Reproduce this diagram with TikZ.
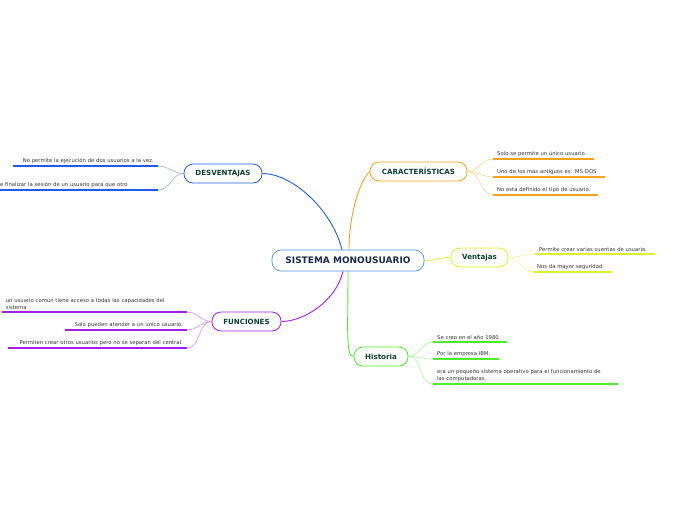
\documentclass[tikz,border=0pt]{standalone}
\usepackage{fontspec}
\setmainfont{DejaVu Sans}
\usepackage{xcolor}
\usetikzlibrary{arrows.meta,calc,positioning,backgrounds}

\definecolor{rootText}{HTML}{1B2A4E}
\definecolor{rootLine}{HTML}{4A90D9}
\definecolor{topicText}{HTML}{0D4030}
\definecolor{cBlue}{HTML}{1F5BEB}
\definecolor{cOrange}{HTML}{F7A21B}
\definecolor{cLime}{HTML}{DDF22C}
\definecolor{cGreen}{HTML}{4BEF2B}
\definecolor{cPurple}{HTML}{A41DEB}

\begin{document}
\begin{tikzpicture}[x=1pt,y=-1pt,
  root/.style={draw=rootLine,fill=white,line width=0.7pt,rounded corners=9pt,
    minimum width=152pt,minimum height=21pt,text=rootText,
    font=\bfseries\fontsize{9}{10}\selectfont},
  topic/.style={draw=#1,fill=white,line width=0.8pt,rounded corners=9pt,
    minimum height=19pt,text=topicText,font=\bfseries\fontsize{7.1}{8}\selectfont},
  leaf/.style={inner xsep=4pt,inner ysep=2.5pt,text=black!80,
    font=\fontsize{5.3}{6.6}\selectfont},
  uline/.style={draw=#1,line width=1.3pt},
  link/.style={draw=#1,line width=0.9pt},
  sublink/.style={draw=#1!55,line width=0.5pt}]
  \useasboundingbox (0,0) rectangle (696,520);

  % central topic and main branches
  \node[root] (sys) at (348,260.5) {SISTEMA MONOUSUARIO};
  \node[topic=cOrange,minimum width=97pt] (car) at (418.5,171.5) {CARACTERÍSTICAS};
  \node[topic=cBlue,minimum width=78pt] (des) at (223,173.5) {DESVENTAJAS};
  \node[topic=cLime,minimum width=57pt] (ven) at (479.5,257.5) {Ventajas};
  \node[topic=cGreen,minimum width=54pt] (his) at (381,356.5) {Historia};
  \node[topic=cPurple,minimum width=69pt] (fun) at (246.5,321.5) {FUNCIONES};

  \begin{pgfonlayer}{background}
    \draw[link=cOrange] ($(sys.north)+(1,0)$)
      .. controls ($(sys.north)+(1,-35)$) and ($(car.west)+(-10,10)$) .. (car.west);
    \draw[link=cBlue] ($(sys.north)+(-6,0)$)
      .. controls ($(sys.north)+(-16,-40)$) and ($(des.east)+(30,0)$) .. (des.east);
    \draw[link=cLime] (sys.east)
      .. controls ($(sys.east)+(13,0)$) and ($(ven.west)+(-13,0)$) .. (ven.west);
    \draw[link=cGreen] (sys.south)
      .. controls ($(sys.south)+(0,60)$) and ($(his.west)+(-8,0)$) .. (his.west);
    \draw[link=cPurple] ($(sys.south)+(-5,0)$)
      .. controls ($(sys.south)+(-12,30)$) and ($(fun.east)+(22,0)$) .. (fun.east);
  \end{pgfonlayer}

  % caracteristicas
  \node[leaf,anchor=south west,text width=93pt,align=left] (c1) at (493,159)
    {Solo se permite un único usuario.};
  \node[leaf,anchor=south west,text width=104pt,align=left] (c2) at (493,177)
    {Uno de los mas antiguos es: MS-DOS};
  \node[leaf,anchor=south west,text width=97pt,align=left] (c3) at (493,195)
    {No esta definido el tipo de usuario.};
  \foreach \n in {c1,c2,c3}{
    \draw[uline=cOrange] (\n.south west) -- (\n.south east);
    \draw[sublink=cOrange] (car.east) to[out=0,in=180] (\n.south west);
  }

  % ventajas
  \node[leaf,anchor=south west,text width=112pt,align=left] (v1) at (535,254)
    {Permite crear varias cuentas de usuario.};
  \node[leaf,anchor=south west,text width=71pt,align=left] (v2) at (533,272)
    {Nos da mayor seguridad.};
  \foreach \n in {v1,v2}{
    \draw[uline=cLime] (\n.south west) -- (\n.south east);
    \draw[sublink=cLime] (ven.east) to[out=0,in=180] (\n.south west);
  }

  % historia
  \node[leaf,anchor=south west,text width=66pt,align=left] (h1) at (433,342)
    {Se creo en el año 1980};
  \node[leaf,anchor=south west,text width=58pt,align=left] (h2) at (433,359)
    {Por la empresa IBM.};
  \node[leaf,anchor=south west,text width=177pt,align=left] (h3) at (433,384)
    {era un pequeño sistema operativo para el funcionamiento de\\las computadoras.};
  \foreach \n in {h1,h2,h3}{
    \draw[uline=cGreen] (\n.south west) -- (\n.south east);
    \draw[sublink=cGreen] (his.east) to[out=0,in=180] (\n.south west);
  }

  % desventajas
  \node[leaf,anchor=south east,text width=137pt,align=right] (d1) at (158,166)
    {No permite la ejecución de dos usuarios a la vez.};
  \node[leaf,anchor=south west,inner xsep=0pt,text width=158pt,align=left] (d2) at (0,190)
    {e finalizar la sesión de un usuario para que otro};
  \draw[uline=cBlue] (d1.south west) -- (d1.south east);
  \draw[uline=cBlue] (d2.south west) -- (d2.south east);
  \foreach \n in {d1,d2}
    \draw[sublink=cBlue] (des.west) to[out=180,in=0] (\n.south east);

  % funciones
  \node[leaf,anchor=south east,text width=177pt,align=left] (f1) at (187,312)
    {un usuario común tiene acceso a todas las capacidades del\\sistema};
  \node[leaf,anchor=south east,text width=114pt,align=right] (f2) at (187,330)
    {Solo pueden atender a un unico usuario.};
  \node[leaf,anchor=south east,text width=171pt,align=right] (f3) at (187,348)
    {Permiten crear otros usuarios pero no se separan del central.};
  \foreach \n in {f1,f2,f3}{
    \draw[uline=cPurple] (\n.south west) -- (\n.south east);
    \draw[sublink=cPurple] (fun.west) to[out=180,in=0] (\n.south east);
  }
\end{tikzpicture}
\end{document}
